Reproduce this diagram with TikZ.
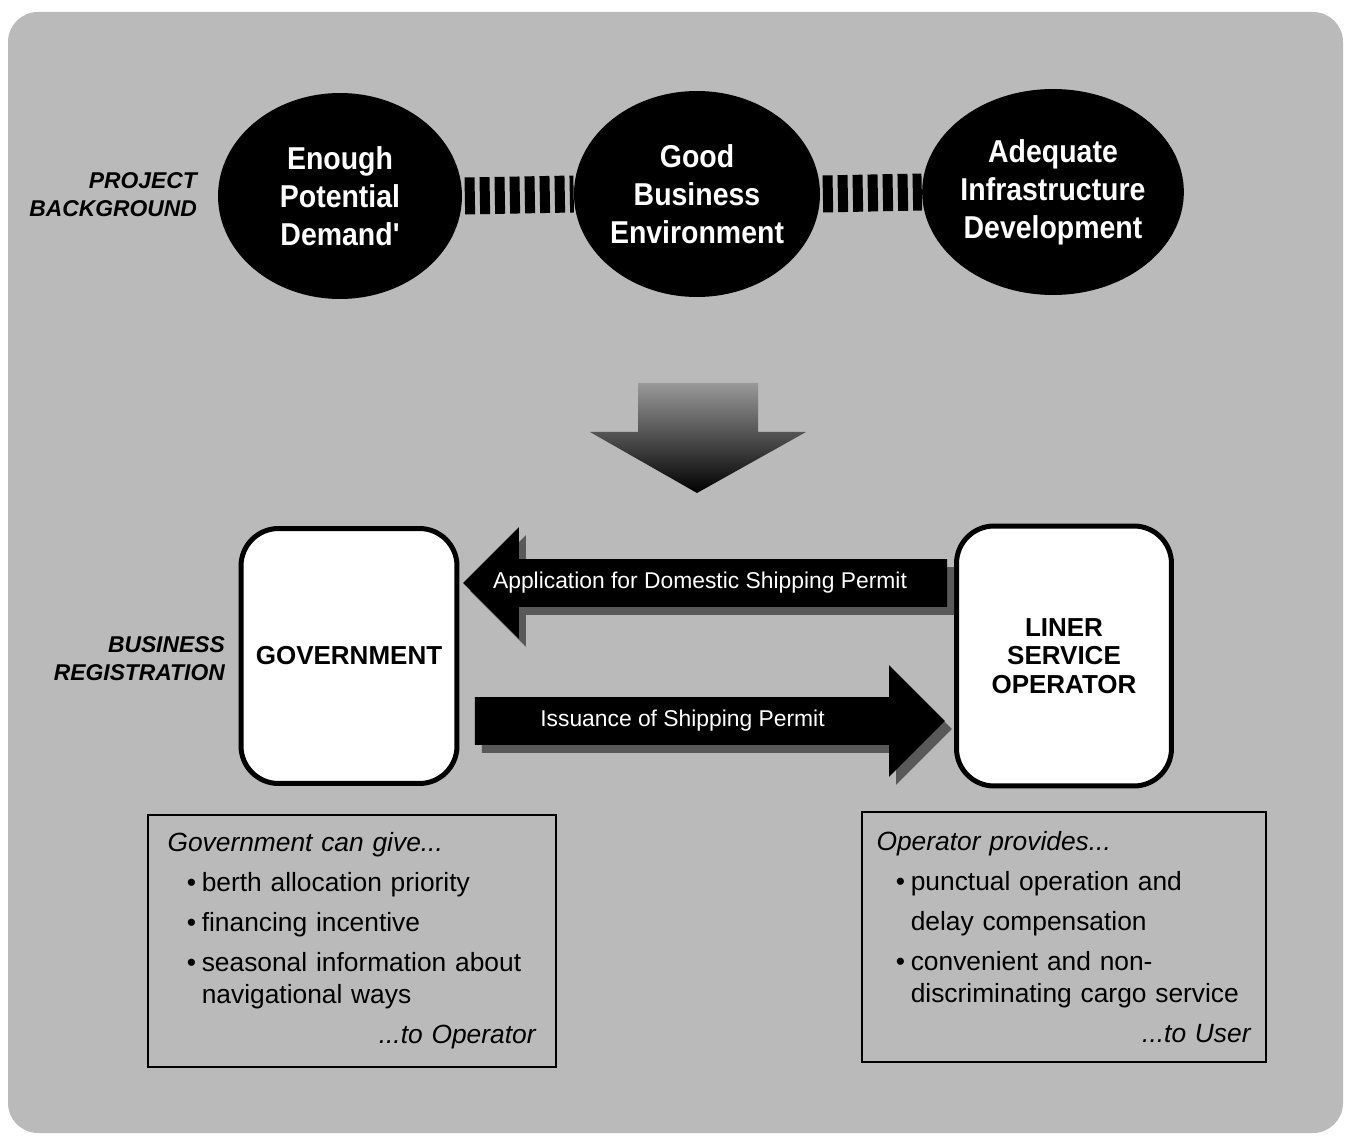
\documentclass[tikz,border=0pt]{standalone}
\usepackage{xcolor}
\usepackage{fontspec}
\setmainfont{Liberation Sans}
\newfontfamily\narrowfont[FakeStretch=0.9]{Liberation Sans}
\usepackage{tikz}
\usetikzlibrary{shapes.geometric, shapes.arrows, shadows}

\newcommand{\itm}{\hspace*{11pt}\makebox[8.5pt][l]{\textbullet}}
\newcommand{\itc}{\hspace*{19.5pt}}

\begin{document}
\begin{tikzpicture}[x=0.02cm, y=-0.02cm,
    factor/.style={ellipse, fill=black, minimum width=4.88cm, minimum height=4.12cm, inner sep=0pt, text=white, align=center, font=\narrowfont\bfseries\fontsize{18}{21.6}\selectfont},
    barlink/.style={line width=0.74cm, dash pattern=on 0.2cm off 0.1cm, dash phase=0.25cm},
    sidelabel/.style={anchor=east, align=right, font=\bfseries\itshape\fontsize{13}{16}\selectfont},
    party/.style={draw, line width=0.1cm, fill=white, rounded corners=0.75cm, align=center, font=\bfseries\fontsize{14.8}{16.2}\selectfont},
    permit/.style={single arrow, fill=black, text=white, single arrow head extend=0.64cm, single arrow tip angle=90, text height=9.5pt, text depth=2.7pt, inner ysep=0.255cm, minimum height=9.4cm, font=\fontsize{13}{15}\selectfont, drop shadow={shadow xshift=0.14cm, shadow yshift=-0.16cm, fill=black!65, opacity=1}},
    note/.style={draw, line width=0.04cm, align=left, font=\fontsize{15}{22.8}\selectfont}
]
\useasboundingbox (0,0) rectangle (1349,1138);
% grey panel
\fill[black!27, rounded corners=0.6cm] (8,12) rectangle (1343,1133);

% project background
\node[sidelabel] (projbg) at (203,195) {PROJECT\\BACKGROUND};
\node[factor] (demand) at (340,196) {Enough\\Potential\\Demand'};
\node[factor] (business) at (697,194) {Good\\Business\\Environment};
\node[factor] (infra) at (1053,192) {Adequate\\Infrastructure\\Development};
\draw[barlink] (demand.east) -- (business.west);
\draw[barlink] (business.east) -- (infra.west);

% big arrow down
\shade[top color=black!40, bottom color=black] (638,383) -- (758,383) -- (758,432) -- (806,432) -- (697,493) -- (590,432) -- (638,432) -- cycle;

% business registration
\node[sidelabel] (bizreg) at (231,659) {BUSINESS\\REGISTRATION};
\node[party, minimum width=4.32cm, minimum height=5.1cm] (gov) at (349,656) {GOVERNMENT};
\node[party, minimum width=4.3cm, minimum height=5.2cm] (lso) at (1064,656) {LINER\\SERVICE\\OPERATOR};
\node[permit, shape border rotate=180] (apply) at (717,583) {Application for Domestic Shipping Permit\hspace*{0.68cm}};
\node[permit] (issue) at (698,721) {Issuance of Shipping Permit\hspace*{0.62cm}};

% what each side gives
\node[note, minimum width=8.18cm, minimum height=5.06cm, text width=7.38cm] (govnote) at (352,941) {%
  \textit{Government can give...}\\
  \itm berth allocation priority\\
  \itm financing incentive\\
  \itm seasonal information about\\[-4.6pt]
  \itc navigational ways\\
  \hfill\textit{...to Operator}};
\node[note, minimum width=8.1cm, minimum height=5cm, text width=7.5cm] (opnote) at (1064,937) {%
  \textit{Operator provides...}\\
  \itm punctual operation and\\
  \itc delay compensation\\
  \itm convenient and non-\\[-4.6pt]
  \itc discriminating cargo service\\
  \hfill\textit{...to User}};
\end{tikzpicture}
\end{document}
